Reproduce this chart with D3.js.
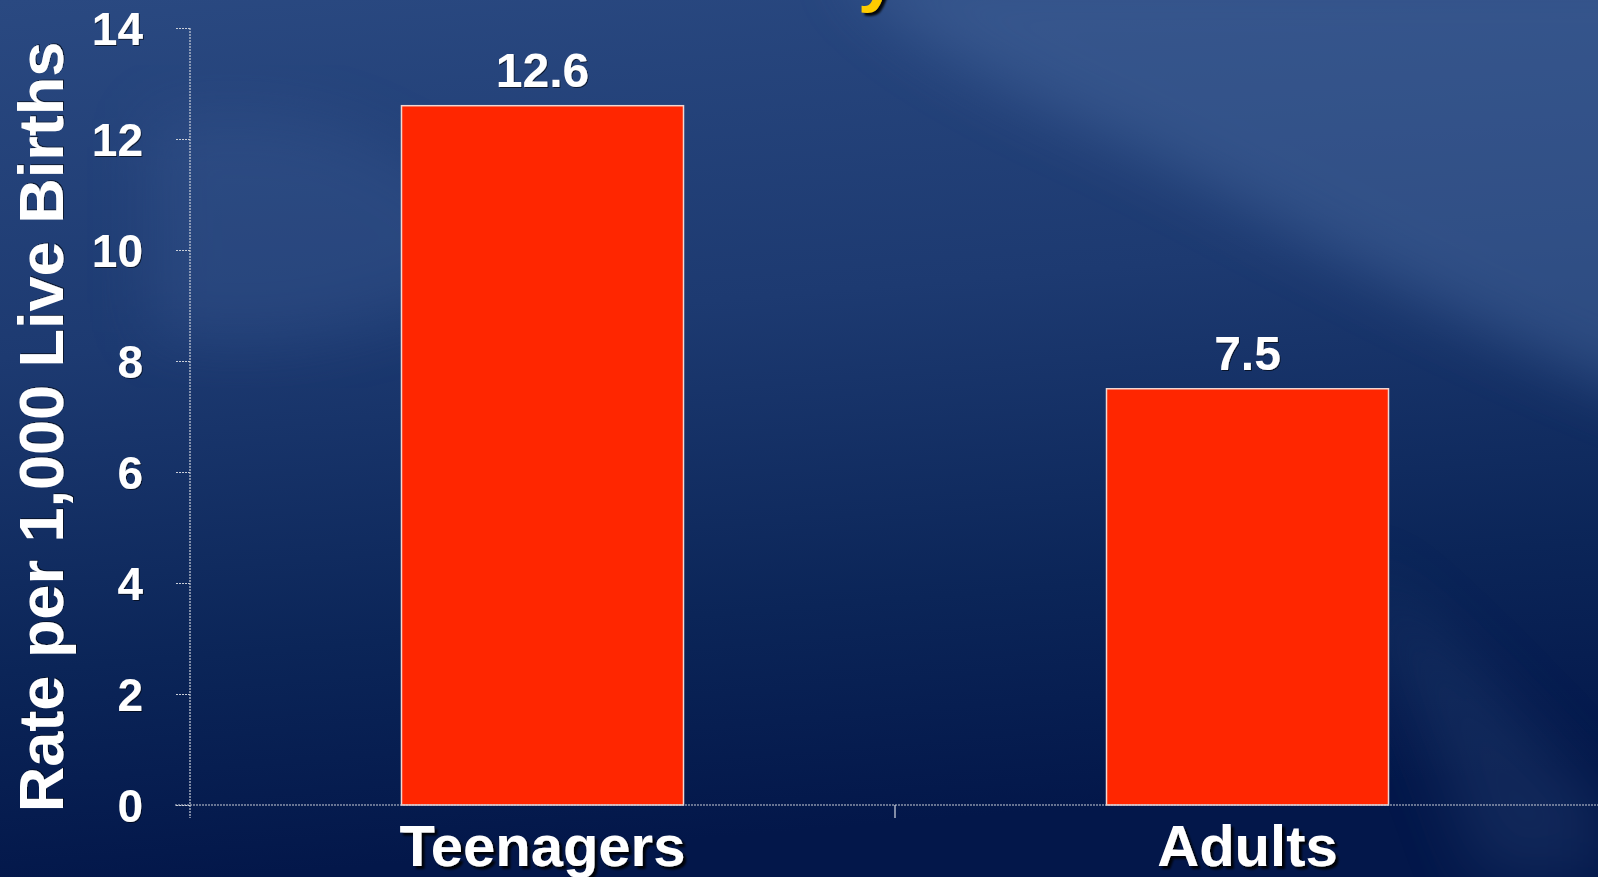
<!DOCTYPE html>
<html>
<head>
<meta charset="utf-8">
<script src="https://cdn.jsdelivr.net/npm/d3@7"></script>
<style>
  html, body { margin: 0; padding: 0; background: #0b2154; overflow: hidden; }
  svg { display: block; font-family: "Liberation Sans", Arial, sans-serif; }
</style>
</head>
<body>
<div id="chart"></div>
<script>
(function () {

var categories = ['Teenagers', 'Adults']
var rates = [12.6, 7.5]
var yTicks = [0, 2, 4, 6, 8, 10, 12, 14]
var yTitle = 'Rate per 1,000 Live Births'

var width = 1598,
    height = 877

var margin = { top: 28, right: 0, bottom: 72, left: 190 }

var svg = d3.select('#chart').append('svg')
    .attr('width', width)
    .attr('height', height)

var defs = svg.append('defs')

var bg = defs.append('linearGradient')
    .attr('id', 'bg')
    .attr('x1', 0).attr('y1', 0)
    .attr('x2', 0.15).attr('y2', 1)
bg.append('stop').attr('offset', '0%').attr('stop-color', '#2a4981')
bg.append('stop').attr('offset', '40%').attr('stop-color', '#1d3a71')
bg.append('stop').attr('offset', '75%').attr('stop-color', '#0b2558')
bg.append('stop').attr('offset', '100%').attr('stop-color', '#03174a')

var blur = defs.append('filter').attr('id', 'blur')
    .attr('x', '-20%').attr('y', '-20%').attr('width', '140%').attr('height', '140%')
blur.append('feGaussianBlur').attr('stdDeviation', 30)

var shadow = defs.append('filter').attr('id', 'shadow')
    .attr('x', '-10%').attr('y', '-10%').attr('width', '130%').attr('height', '140%')
shadow.append('feDropShadow')
    .attr('dx', 3).attr('dy', 3).attr('stdDeviation', 1)
    .attr('flood-color', '#000').attr('flood-opacity', 0.9)

var soft = defs.append('filter').attr('id', 'soft')
soft.append('feDropShadow')
    .attr('dx', 1).attr('dy', 1).attr('stdDeviation', 0.6)
    .attr('flood-color', '#000').attr('flood-opacity', 0.6)

// background
svg.append('rect')
    .attr('width', width)
    .attr('height', height)
    .attr('fill', 'url(#bg)')

// lighter swoosh top right
svg.append('path')
    .attr('d', 'M840,-40 L1700,-40 L1700,420 C1450,330 1250,200 1050,110 C950,60 880,20 840,-40 Z')
    .attr('fill', '#4a6aa0')
    .attr('opacity', 0.45)
    .attr('filter', 'url(#blur)')

svg.append('path')
    .attr('d', 'M150,120 C300,90 420,140 520,260 C400,330 250,360 150,330 Z')
    .attr('fill', '#3a5a92')
    .attr('opacity', 0.35)
    .attr('filter', 'url(#blur)')

svg.append('path')
    .attr('d', 'M1350,560 C1450,640 1520,720 1600,800 L1600,877 L1480,877 C1440,760 1400,660 1350,560 Z')
    .attr('fill', '#2c4676')
    .attr('opacity', 0.35)
    .attr('filter', 'url(#blur)')

// cut-off title glyph at top
svg.append('text')
    .text('y')
    .attr('x', 858)
    .attr('y', -2)
    .attr('font-size', 70)
    .attr('font-weight', 'bold')
    .attr('fill', '#ffcc00')
    .attr('filter', 'url(#shadow)')

var xScale = d3.scaleBand()
    .domain(categories)
    .range([margin.left, width + 2])
    .paddingInner(0.6)
    .paddingOuter(0.3)

var yScale = d3.scaleLinear()
    .domain([0, 14])
    .range([height - margin.bottom, margin.top])

// bars
svg.selectAll('.bar')
    .data(rates)
    .enter().append('rect')
    .attr('class', 'bar')
    .attr('x', function (d, i) { return xScale(categories[i]) })
    .attr('y', function (d) { return yScale(d) })
    .attr('width', xScale.bandwidth())
    .attr('height', function (d) { return yScale(0) - yScale(d) })
    .attr('fill', '#ff2600')
    .attr('stroke', '#f2d6d0')
    .attr('stroke-width', 1.5)

// value labels
svg.selectAll('.value-label')
    .data(rates)
    .enter().append('text')
    .attr('class', 'value-label')
    .attr('x', function (d, i) { return xScale(categories[i]) + xScale.bandwidth() / 2 })
    .attr('y', function (d) { return yScale(d) - 19 })
    .attr('text-anchor', 'middle')
    .attr('font-size', 48)
    .attr('font-weight', 'bold')
    .attr('fill', '#ffffff')
    .attr('filter', 'url(#soft)')
    .text(function (d) { return d })

// y axis
var yAxis = d3.axisLeft(yScale)
    .tickValues(yTicks)
    .tickSize(15)
    .tickSizeOuter(0)
    .tickPadding(32)

var yAxisG = svg.append('g')
    .attr('class', 'axis y-axis')
    .attr('transform', 'translate(' + margin.left + ',0)')
    .call(yAxis)

yAxisG.select('.domain')
    .attr('d', 'M0,' + margin.top + 'V' + (yScale(0) + 13))
yAxisG.selectAll('.domain, .tick line')
    .attr('stroke', '#c9ced8')
    .attr('stroke-width', 1.2)
    .attr('stroke-dasharray', '2,1')
yAxisG.selectAll('.tick text')
    .attr('fill', '#ffffff')
    .attr('font-size', 46)
    .attr('font-weight', 'bold')
    .attr('font-family', '"Liberation Sans", Arial, sans-serif')
    .attr('dy', '0.36em')
    .attr('filter', 'url(#soft)')

// x axis
var xAxis = d3.axisBottom(xScale)
    .tickSize(0)
    .tickSizeOuter(0)
    .tickPadding(20)

var xAxisG = svg.append('g')
    .attr('class', 'axis x-axis')
    .attr('transform', 'translate(0,' + yScale(0) + ')')
    .call(xAxis)

xAxisG.select('.domain')
    .attr('d', 'M' + (margin.left - 15) + ',0H' + width)
    .attr('stroke', '#c9ced8')
    .attr('stroke-width', 1.2)
    .attr('stroke-dasharray', '2,1')

xAxisG.selectAll('.tick text')
    .attr('fill', '#ffffff')
    .attr('font-size', 58)
    .attr('font-weight', 'bold')
    .attr('font-family', '"Liberation Sans", Arial, sans-serif')
    .attr('filter', 'url(#shadow)')

// tick between the two categories
var between = (xScale(categories[0]) + xScale.bandwidth() + xScale(categories[1])) / 2
xAxisG.append('line')
    .attr('x1', between)
    .attr('x2', between)
    .attr('y1', 0)
    .attr('y2', 13)
    .attr('stroke', '#d8dce4')
    .attr('stroke-width', 1.2)

// y axis title
svg.append('text')
    .text(yTitle)
    .attr('transform', 'translate(63,' + 427 + ') rotate(-90)')
    .attr('text-anchor', 'middle')
    .attr('font-size', 63)
    .attr('font-weight', 'bold')
    .attr('fill', '#ffffff')
    .attr('filter', 'url(#soft)')

})()
</script>
</body>
</html>
